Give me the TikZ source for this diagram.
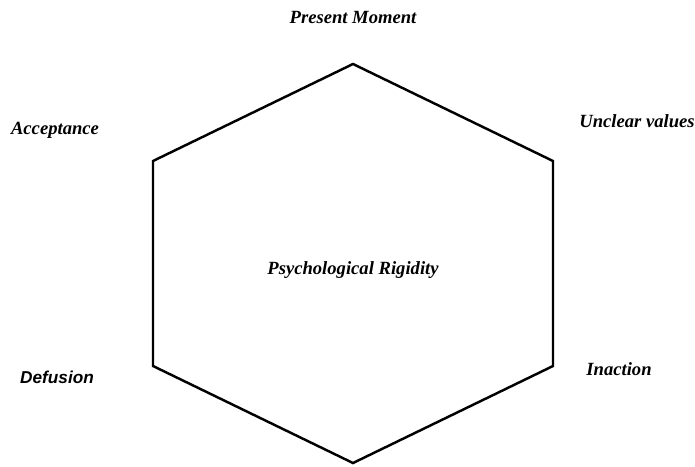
\documentclass[tikz,border=0pt]{standalone}
\usepackage{fontspec}
\setmainfont{Liberation Serif}
\newfontfamily\arialfont{Liberation Sans}
\usepackage{tikz}
\usetikzlibrary{positioning}
\definecolor{hexline}{HTML}{000000}

\begin{document}
\begin{tikzpicture}[
    x=0.02cm, y=-0.02cm,
    every node/.style={font=\fontsize{10.6}{12}\selectfont\bfseries\itshape},
    sidelabel/.style={inner sep=1pt}
]
\useasboundingbox (0,0) rectangle (695,466);
% hexagon corners
\coordinate (top) at (353,64);
\coordinate (upright) at (553,161);
\coordinate (lowright) at (553,366);
\coordinate (bottom) at (353,463);
\coordinate (lowleft) at (153,366);
\coordinate (upleft) at (153,161);
\draw[line width=1.4pt, color=hexline, line join=miter]
    (top) -- (upright) -- (lowright) -- (bottom) -- (lowleft) -- (upleft) -- cycle;

\node (center) at (353,270) {Psychological Rigidity};
\node[sidelabel] (present) at (353,17) {Present Moment};
\node[sidelabel] (unclear) at (637,121) {Unclear values};
\node[sidelabel] (inaction) at (619,369) {Inaction};
\node[sidelabel, font=\fontsize{9.8}{12}\selectfont\arialfont\bfseries\itshape] (defusion) at (57,377) {Defusion};
\node[sidelabel] (acceptance) at (55,130) {Acceptance};
\end{tikzpicture}
\end{document}
